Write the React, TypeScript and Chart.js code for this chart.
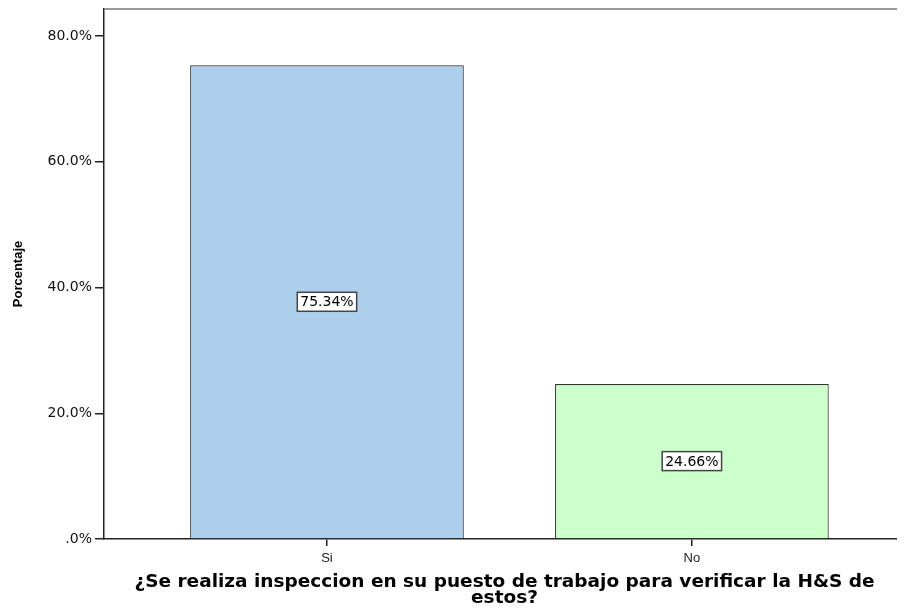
import React, { useEffect, useRef } from "react";
import { Chart, registerables } from "chart.js";

Chart.register(...registerables);

const categories = ["Si", "No"];
const percentages = [75.34, 24.66];
const barColors = ["#aecfeb", "#ccffcc"];
const yTickValues = [0, 20, 40, 60, 80];
const xTitleLines = [
  "¿Se realiza inspeccion en su puesto de trabajo para verificar la H&S de",
  "estos?",
];
const yTitle = "Porcentaje";

const FONT = "'Liberation Sans', Arial, sans-serif";
const WIDE = "'DejaVu Sans', sans-serif";

const topBorderPlugin = {
  id: "topBorder",
  afterDraw(chart: any) {
    const { ctx, chartArea } = chart;
    ctx.save();
    ctx.strokeStyle = "#777";
    ctx.lineWidth = 1.5;
    ctx.beginPath();
    ctx.moveTo(chartArea.left, chartArea.top);
    ctx.lineTo(chart.width, chartArea.top);
    ctx.stroke();
    ctx.restore();
  },
};

const labelBoxPlugin = {
  id: "labelBox",
  afterDatasetsDraw(chart: any) {
    const { ctx } = chart;
    const meta = chart.getDatasetMeta(0);
    ctx.save();
    ctx.font = `14px ${WIDE}`;
    ctx.textAlign = "center";
    ctx.textBaseline = "middle";
    meta.data.forEach((bar: any, i: number) => {
      const text = percentages[i].toFixed(2) + "%";
      const cx = bar.x;
      const cy = (bar.y + bar.base) / 2;
      const w = ctx.measureText(text).width + 6;
      const h = 19;
      ctx.fillStyle = "#ffffff";
      ctx.fillRect(cx - w / 2, cy - h / 2, w, h);
      ctx.strokeStyle = "#444";
      ctx.lineWidth = 1.5;
      ctx.strokeRect(cx - w / 2, cy - h / 2, w, h);
      ctx.fillStyle = "#000";
      ctx.fillText(text, cx, cy + 1);
    });
    ctx.restore();
  },
};

export default function App() {
  const canvasRef = useRef<HTMLCanvasElement>(null);

  useEffect(() => {
    const canvas = canvasRef.current;
    if (!canvas) return;
    const chart = new Chart(canvas, {
      type: "bar",
      data: {
        datasets: [
          {
            data: percentages.map((v, i) => ({ x: i, y: v })),
            backgroundColor: barColors,
            borderColor: "#333",
            borderWidth: 1.2,
            barPercentage: 0.75,
            categoryPercentage: 1,
          },
        ],
      },
      options: {
        animation: false,
        responsive: true,
        maintainAspectRatio: false,
        layout: { padding: { top: 1, right: 0, left: 0, bottom: 0 } },
        plugins: {
          legend: { display: false },
          tooltip: { enabled: false },
        },
        scales: {
          x: {
            type: "linear",
            offset: false,
            min: -0.611,
            max: 1.584,
            afterBuildTicks(scale: any) {
              scale.ticks = categories.map((_, i) => ({ value: i }));
            },
            afterFit(scale: any) {
              scale.height = 76;
              scale.paddingLeft = 0;
              scale.paddingRight = 0;
            },
            ticks: {
              callback: (v: any) => categories[v as number] ?? "",
              color: "#222",
              font: { family: FONT, size: 13 },
              padding: 5,
              maxRotation: 0,
              autoSkip: false,
            },
            grid: {
              offset: false,
              drawOnChartArea: false,
              drawTicks: true,
              tickLength: 7,
              color: "#222",
              lineWidth: 1.5,
            },
            border: { display: true, color: "#222", width: 1.5 },
            title: {
              display: true,
              text: xTitleLines,
              color: "#000",
              font: { family: WIDE, size: 18.5, weight: "bold", lineHeight: 0.9 },
              padding: { top: 0, bottom: 8 },
            },
          },
          y: {
            type: "linear",
            min: 0,
            max: 84.3,
            afterBuildTicks(scale: any) {
              scale.ticks = yTickValues.map((v) => ({ value: v }));
            },
            afterFit(scale: any) {
              scale.width = 96;
              scale.paddingTop = 0;
              scale.paddingBottom = 0;
            },
            ticks: {
              callback: (v: any) =>
                v === 0 ? ".0%" : Number(v).toFixed(1) + "%",
              color: "#111",
              font: { family: WIDE, size: 14 },
              padding: 3,
            },
            grid: {
              drawOnChartArea: false,
              drawTicks: true,
              tickLength: 9,
              color: "#222",
              lineWidth: 1.5,
            },
            border: { display: true, color: "#222", width: 1.5 },
            title: {
              display: true,
              text: yTitle,
              color: "#000",
              font: { family: FONT, size: 13, weight: "bold" },
              padding: { top: 3, bottom: 2 },
            },
          },
        },
      },
      plugins: [topBorderPlugin, labelBoxPlugin],
    });
    return () => chart.destroy();
  }, []);

  return (
    <div style={{ width: 897, height: 607, position: "relative" }}>
      <canvas ref={canvasRef} />
    </div>
  );
}
